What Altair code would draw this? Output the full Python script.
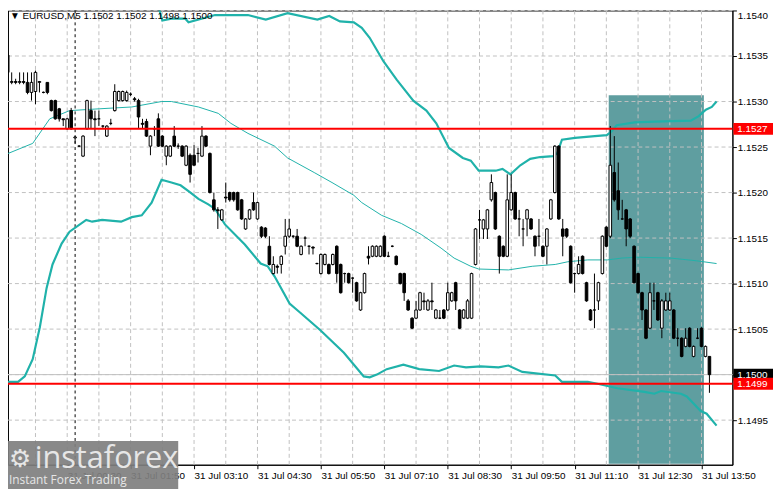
import json
import altair as alt
import pandas as pd

# ---------------- data ----------------
opens = [
    1.15332, 1.15351, 1.15321, 1.15322, 1.15321, 1.15322, 1.15321, 1.15310, 1.15311, 1.15321,
    1.15310, 1.15321, 1.15301, 1.15301, 1.15292, 1.15281, 1.15270, 1.15290, 1.15260, 1.15251,
    1.15240, 1.15270, 1.15290, 1.15281, 1.15281, 1.15273, 1.15262, 1.15276, 1.15290, 1.15301,
    1.15301, 1.15301, 1.15308, 1.15303, 1.15301, 1.15276, 1.15278, 1.15251, 1.15270, 1.15281,
    1.15262, 1.15240, 1.15240, 1.15262, 1.15251, 1.15251, 1.15230, 1.15241, 1.15241, 1.15243,
    1.15240, 1.15262, 1.15243, 1.15192, 1.15181, 1.15170, 1.15195, 1.15200, 1.15200, 1.15200,
    1.15192, 1.15160, 1.15171, 1.15189, 1.15171, 1.15162, 1.15161, 1.15141, 1.15111, 1.15119,
    1.15121, 1.15141, 1.15152, 1.15152, 1.15152, 1.15132, 1.15150, 1.15141, 1.15140, 1.15122,
    1.15111, 1.15121, 1.15121, 1.15121, 1.15141, 1.15121, 1.15111, 1.15111, 1.15106, 1.15101,
    1.15071, 1.15090, 1.15130, 1.15130, 1.15130, 1.15130, 1.15152, 1.15130, 1.15141, 1.15130,
    1.15111, 1.15111, 1.15081, 1.15062, 1.15062, 1.15071, 1.15081, 1.15071, 1.15081, 1.15062,
    1.15062, 1.15071, 1.15071, 1.15081, 1.15101, 1.15071, 1.15062, 1.15062, 1.15062, 1.15121,
    1.15170, 1.15160, 1.15160, 1.15192, 1.15200, 1.15152, 1.15141, 1.15130, 1.15181, 1.15200,
    1.15171, 1.15160, 1.15171, 1.15171, 1.15152, 1.15152, 1.15141, 1.15141, 1.15171, 1.15200,
    1.15251, 1.15160, 1.15160, 1.15141, 1.15111, 1.15111, 1.15130, 1.15101, 1.15071, 1.15071,
    1.15081, 1.15111, 1.15162, 1.15152, 1.15222, 1.15202, 1.15171, 1.15181, 1.15171, 1.15141,
    1.15111, 1.15090, 1.15071, 1.15051, 1.15081, 1.15090, 1.15051, 1.15071, 1.15071, 1.15071,
    1.15040, 1.15040, 1.15031, 1.15051, 1.15020, 1.15040, 1.15051, 1.15020, 1.15020,
]
highs = [
    1.15346, 1.15354, 1.15332, 1.15325, 1.15332, 1.15332, 1.15332, 1.15332, 1.15334, 1.15322,
    1.15311, 1.15321, 1.15302, 1.15302, 1.15293, 1.15281, 1.15282, 1.15293, 1.15262, 1.15252,
    1.15263, 1.15302, 1.15301, 1.15290, 1.15290, 1.15274, 1.15274, 1.15281, 1.15319, 1.15312,
    1.15312, 1.15312, 1.15310, 1.15305, 1.15303, 1.15281, 1.15281, 1.15263, 1.15273, 1.15287,
    1.15263, 1.15252, 1.15252, 1.15273, 1.15254, 1.15252, 1.15252, 1.15243, 1.15252, 1.15249,
    1.15273, 1.15263, 1.15244, 1.15200, 1.15184, 1.15182, 1.15211, 1.15201, 1.15201, 1.15201,
    1.15193, 1.15172, 1.15182, 1.15200, 1.15190, 1.15163, 1.15162, 1.15152, 1.15130, 1.15121,
    1.15131, 1.15171, 1.15171, 1.15153, 1.15160, 1.15142, 1.15152, 1.15142, 1.15141, 1.15123,
    1.15133, 1.15133, 1.15122, 1.15133, 1.15142, 1.15122, 1.15112, 1.15112, 1.15107, 1.15102,
    1.15091, 1.15112, 1.15141, 1.15142, 1.15142, 1.15142, 1.15153, 1.15135, 1.15142, 1.15131,
    1.15112, 1.15112, 1.15083, 1.15063, 1.15081, 1.15091, 1.15090, 1.15083, 1.15101, 1.15072,
    1.15071, 1.15072, 1.15101, 1.15091, 1.15102, 1.15072, 1.15072, 1.15083, 1.15112, 1.15161,
    1.15181, 1.15171, 1.15182, 1.15220, 1.15201, 1.15153, 1.15142, 1.15220, 1.15220, 1.15201,
    1.15181, 1.15171, 1.15182, 1.15172, 1.15153, 1.15171, 1.15142, 1.15161, 1.15193, 1.15252,
    1.15252, 1.15171, 1.15161, 1.15142, 1.15112, 1.15130, 1.15131, 1.15102, 1.15072, 1.15111,
    1.15102, 1.15153, 1.15163, 1.15273, 1.15262, 1.15233, 1.15192, 1.15182, 1.15172, 1.15142,
    1.15112, 1.15091, 1.15072, 1.15101, 1.15101, 1.15091, 1.15083, 1.15090, 1.15090, 1.15072,
    1.15051, 1.15041, 1.15051, 1.15052, 1.15032, 1.15051, 1.15052, 1.15032, 1.15020,
]
lows = [
    1.15330, 1.15322, 1.15319, 1.15319, 1.15319, 1.15319, 1.15308, 1.15301, 1.15297, 1.15310,
    1.15309, 1.15308, 1.15289, 1.15280, 1.15278, 1.15273, 1.15269, 1.15269, 1.15254, 1.15250,
    1.15239, 1.15269, 1.15270, 1.15262, 1.15273, 1.15271, 1.15261, 1.15274, 1.15289, 1.15300,
    1.15300, 1.15300, 1.15306, 1.15300, 1.15270, 1.15270, 1.15261, 1.15241, 1.15262, 1.15250,
    1.15250, 1.15230, 1.15239, 1.15250, 1.15248, 1.15239, 1.15229, 1.15211, 1.15230, 1.15233,
    1.15239, 1.15250, 1.15199, 1.15179, 1.15160, 1.15169, 1.15189, 1.15190, 1.15190, 1.15180,
    1.15170, 1.15159, 1.15170, 1.15180, 1.15170, 1.15150, 1.15150, 1.15120, 1.15110, 1.15111,
    1.15111, 1.15132, 1.15150, 1.15150, 1.15140, 1.15131, 1.15141, 1.15132, 1.15132, 1.15121,
    1.15110, 1.15120, 1.15110, 1.15120, 1.15101, 1.15089, 1.15101, 1.15100, 1.15090, 1.15080,
    1.15070, 1.15089, 1.15121, 1.15129, 1.15129, 1.15129, 1.15129, 1.15129, 1.15140, 1.15120,
    1.15099, 1.15081, 1.15070, 1.15050, 1.15061, 1.15070, 1.15071, 1.15070, 1.15071, 1.15061,
    1.15061, 1.15061, 1.15070, 1.15080, 1.15071, 1.15050, 1.15061, 1.15061, 1.15061, 1.15120,
    1.15149, 1.15149, 1.15149, 1.15190, 1.15159, 1.15111, 1.15129, 1.15129, 1.15180, 1.15170,
    1.15152, 1.15141, 1.15152, 1.15159, 1.15130, 1.15141, 1.15129, 1.15121, 1.15170, 1.15199,
    1.15170, 1.15130, 1.15150, 1.15100, 1.15090, 1.15110, 1.15110, 1.15080, 1.15059, 1.15051,
    1.15071, 1.15110, 1.15140, 1.15150, 1.15190, 1.15170, 1.15170, 1.15141, 1.15150, 1.15100,
    1.15089, 1.15060, 1.15039, 1.15050, 1.15071, 1.15059, 1.15040, 1.15070, 1.15070, 1.15039,
    1.15031, 1.15019, 1.15030, 1.15030, 1.15019, 1.15039, 1.15030, 1.15019, 1.14980,
]
closes = [
    1.15343, 1.15332, 1.15322, 1.15321, 1.15322, 1.15321, 1.15310, 1.15321, 1.15332, 1.15322,
    1.15310, 1.15310, 1.15290, 1.15281, 1.15281, 1.15280, 1.15281, 1.15270, 1.15261, 1.15251,
    1.15262, 1.15301, 1.15281, 1.15280, 1.15281, 1.15273, 1.15273, 1.15276, 1.15311, 1.15311,
    1.15311, 1.15310, 1.15308, 1.15302, 1.15283, 1.15275, 1.15262, 1.15262, 1.15270, 1.15251,
    1.15251, 1.15251, 1.15251, 1.15251, 1.15251, 1.15240, 1.15251, 1.15220, 1.15230, 1.15243,
    1.15262, 1.15251, 1.15200, 1.15181, 1.15180, 1.15181, 1.15194, 1.15192, 1.15192, 1.15181,
    1.15171, 1.15171, 1.15181, 1.15181, 1.15189, 1.15152, 1.15152, 1.15121, 1.15121, 1.15118,
    1.15130, 1.15152, 1.15160, 1.15152, 1.15141, 1.15141, 1.15150, 1.15141, 1.15139, 1.15122,
    1.15132, 1.15132, 1.15111, 1.15132, 1.15111, 1.15090, 1.15111, 1.15101, 1.15106, 1.15081,
    1.15090, 1.15111, 1.15128, 1.15141, 1.15141, 1.15141, 1.15130, 1.15130, 1.15141, 1.15121,
    1.15100, 1.15090, 1.15071, 1.15051, 1.15071, 1.15090, 1.15080, 1.15081, 1.15080, 1.15071,
    1.15062, 1.15062, 1.15090, 1.15090, 1.15081, 1.15051, 1.15071, 1.15081, 1.15111, 1.15160,
    1.15170, 1.15170, 1.15181, 1.15211, 1.15160, 1.15130, 1.15130, 1.15192, 1.15200, 1.15171,
    1.15171, 1.15160, 1.15181, 1.15160, 1.15141, 1.15152, 1.15130, 1.15160, 1.15192, 1.15251,
    1.15171, 1.15152, 1.15152, 1.15101, 1.15111, 1.15121, 1.15111, 1.15081, 1.15060, 1.15071,
    1.15101, 1.15152, 1.15141, 1.15230, 1.15192, 1.15181, 1.15171, 1.15160, 1.15152, 1.15101,
    1.15090, 1.15071, 1.15040, 1.15090, 1.15081, 1.15060, 1.15081, 1.15081, 1.15081, 1.15040,
    1.15040, 1.15020, 1.15040, 1.15031, 1.15031, 1.15040, 1.15031, 1.15031, 1.15000,
]

# Bollinger bands (bar position, price)
upper_bar = [30, 38, 39, 40, 42.3, 45.8, 46.6, 50.8, 53.3, 61.6,
             66.1, 71.6, 79.1, 82.1, 84.8, 88.3, 90.3, 92.3, 95.8, 99.1,
             103.3, 106.6, 109.1, 112.3, 115.8, 117.8, 119.8, 124.1, 125.8, 127.8,
             130.3, 132.8, 135.3, 138.6, 139.6, 140.8, 144.1, 149.1, 152.1, 153.3,
             154.6, 159.1, 164.1, 173.3, 175.3, 177.1, 178.6, 179.8]
upper_val = [1.1560, 1.1545, 1.15405, 1.15389, 1.15391, 1.15391, 1.15387, 1.15392, 1.15395, 1.15395,
             1.15390, 1.15397, 1.15390, 1.15394, 1.15388, 1.15387, 1.15381, 1.15370, 1.15344, 1.15324,
             1.15301, 1.15290, 1.15276, 1.15249, 1.15238, 1.15235, 1.15224, 1.15224, 1.15226, 1.15220,
             1.15230, 1.15237, 1.15239, 1.15240, 1.15243, 1.15258, 1.15260, 1.15262, 1.15263, 1.15267,
             1.15274, 1.15277, 1.15278, 1.15279, 1.15284, 1.15291, 1.15294, 1.15300]
mid_bar = [0, 7.3, 11.6, 16.6, 24.1, 32.3, 39.8, 42.3, 49.1, 54.1,
           57.3, 61.6, 68.3, 71.6, 78.3, 82.8, 88.3, 90.3, 95.3, 100.3,
           105.3, 110.3, 113.6, 117.8, 119.8, 127.3, 133.3, 139.1, 142.3, 147.3,
           152.3, 155.8, 159.8, 168.3, 174.8, 179.8]
mid_val = [1.15241, 1.15254, 1.15281, 1.15290, 1.15292, 1.15294, 1.15300, 1.15300, 1.15294, 1.15287,
           1.15276, 1.15265, 1.15251, 1.15238, 1.15222, 1.15211, 1.15197, 1.15189, 1.15175, 1.15166,
           1.15154, 1.15139, 1.15128, 1.15119, 1.15116, 1.15115, 1.15119, 1.15121, 1.15124, 1.15126,
           1.15126, 1.15128, 1.15129, 1.15128, 1.15125, 1.15122]
lower_bar = [0, 3.6, 5.3, 7.3, 9.1, 10.8, 12.3, 14.6, 16.6, 20.8,
             22.3, 24.8, 29.6, 32.3, 34.8, 37.3, 39.8, 42.3, 44.6, 47.1,
             49.1, 51.6, 53.3, 55.8, 60.8, 64.8, 66.6, 68.3, 72.1, 74.8,
             79.8, 85.8, 90.8, 92.3, 94.1, 96.6, 100.8, 104.8, 109.8, 113.6,
             116.6, 120.3, 124.8, 127.3, 130.8, 139.1, 140.8, 147.3, 149.8, 154.8,
             161.6, 164.1, 165.8, 170.8, 172.3, 175.8, 177.3, 179.8]
lower_val = [1.14992, 1.14992, 1.14998, 1.15017, 1.15052, 1.15095, 1.15121, 1.15144, 1.15157, 1.15170,
             1.15168, 1.15170, 1.15168, 1.15173, 1.15175, 1.15189, 1.15214, 1.15211, 1.15208, 1.15200,
             1.15193, 1.15187, 1.15182, 1.15165, 1.15143, 1.15122, 1.15119, 1.15108, 1.15078, 1.15068,
             1.15049, 1.15024, 1.14998, 1.14997, 1.15000, 1.15006, 1.15011, 1.15006, 1.15004, 1.15010,
             1.15008, 1.15009, 1.15008, 1.15010, 1.15003, 1.14999, 1.14992, 1.14992, 1.14990, 1.14985,
             1.14981, 1.14979, 1.14982, 1.14979, 1.14976, 1.14960, 1.14957, 1.14944]

# axis ticks / labels
price_ticks = [1.1495, 1.1500, 1.1505, 1.1510, 1.1515, 1.1520, 1.1525, 1.1530, 1.1535, 1.1540]
grid_bars = [8, 16, 24, 32, 40, 48, 56, 64, 72, 80, 88, 96, 104, 112, 120, 128, 136, 144,
             152, 160, 168, 176]
label_bars = [0, 16, 32, 48, 64, 80, 96, 112, 128, 144, 160, 176]
time_labels = ["30 Jul 2025", "31 Jul 00:30", "31 Jul 01:50", "31 Jul 03:10", "31 Jul 04:30",
               "31 Jul 05:50", "31 Jul 07:10", "31 Jul 08:30", "31 Jul 09:50", "31 Jul 11:10",
               "31 Jul 12:30", "31 Jul 13:50"]

# horizontal levels and price tags
level_prices = [1.1527, 1.1499]
bid_price = [1.1500]
tag_prices = [1.1500, 1.1527, 1.1499]
tag_colors = ["#000000", "#FF0000", "#FF0000"]
separator_bar = [18]
zone_bars = [152.6, 176.6]
zone_prices = [1.14902, 1.15307]

symbol = "EURUSD,M5"

# ---------------- chart ----------------
W, H = 732, 459
xs = alt.Scale(domain=[1.07, 183.8], nice=False, zero=False, padding=0)
ys = alt.Scale(domain=[1.14901, 1.15400], nice=False, zero=False, padding=0)
FONT = "Liberation Sans"
TEAL = "#20B2AA"

candles = pd.DataFrame({"bar": list(range(len(opens))), "open": opens, "high": highs,
                        "low": lows, "close": closes})
candles["dir"] = ["up" if c >= o else "down" for o, c in zip(opens, closes)]

lb = json.dumps(label_bars)
tl = json.dumps(time_labels)
label_expr = f"indexof({lb}, datum.value) >= 0 ? {tl}[indexof({lb}, datum.value)] : ''"

x_axis = alt.Axis(values=grid_bars, labelExpr=label_expr, labelAlign="left", labelBaseline="top",
                  labelPadding=2, tickSize=4, grid=False, title=None, labelFlush=False,
                  labelOverlap=False, domain=True, domainColor="black",
                  tickOpacity={"condition": {"test": f"indexof({lb}, datum.value) >= 0", "value": 1},
                               "value": 0})
y_axis = alt.Axis(orient="right", values=price_ticks, format=".4f", tickSize=4, labelPadding=1,
                  grid=False, title=None, labelFlush=True, labelOverlap=False, domainColor="black")


def X(field):
    return alt.X(field, type="quantitative", scale=xs, axis=x_axis)


def Y(field):
    return alt.Y(field, type="quantitative", scale=ys, axis=y_axis)


zone_df = pd.DataFrame({"b0": [zone_bars[0]], "b1": [zone_bars[1]],
                        "p0": [zone_prices[0]], "p1": [zone_prices[1]]})
zone = alt.Chart(zone_df).mark_rect(color="#5F9EA0", clip=True).encode(
    x=X("b0"), x2="b1", y=Y("p0"), y2="p1")

hgrid = alt.Chart(pd.DataFrame({"p": price_ticks})).mark_rule(
    color="#C0C0C0", strokeDash=[4, 3], strokeWidth=1).encode(y=Y("p"))
vgrid = alt.Chart(pd.DataFrame({"b": grid_bars})).mark_rule(
    color="#C0C0C0", strokeDash=[4, 3], strokeWidth=1).encode(x=X("b"))

bid = alt.Chart(pd.DataFrame({"p": bid_price})).mark_rule(color="#C0C0C0", strokeWidth=1).encode(y=Y("p"))
sep = alt.Chart(pd.DataFrame({"b": separator_bar})).mark_rule(
    color="black", strokeDash=[3, 3], strokeWidth=1).encode(x=X("b"))


def band(bars, vals, width):
    df = pd.DataFrame({"b": bars, "p": vals})
    return alt.Chart(df).mark_line(color=TEAL, strokeWidth=width, clip=True).encode(
        x=X("b"), y=Y("p"), order="b:Q")


upper = band(upper_bar, upper_val, 2.2)
middle = band(mid_bar, mid_val, 1)
lower = band(lower_bar, lower_val, 2.2)

wicks = alt.Chart(candles).mark_rule(color="black", strokeWidth=1, clip=True).encode(
    x=X("bar"), y=Y("low"), y2="high")
bodies = alt.Chart(candles).mark_bar(size=2.6, stroke="black", strokeWidth=1, orient="vertical",
                                     clip=True).encode(
    x=X("bar"), y=Y("open"), y2="close",
    fill=alt.Fill("dir:N", scale=alt.Scale(domain=["up", "down"], range=["white", "black"]),
                  legend=None))

levels = alt.Chart(pd.DataFrame({"p": level_prices})).mark_rule(color="#FF0000", strokeWidth=2).encode(
    y=Y("p"))

tags_df = pd.DataFrame({"p": tag_prices, "bg": tag_colors,
                        "label": [f"{p:.4f}" for p in tag_prices]})
tag_boxes = alt.Chart(tags_df).mark_bar(orient="horizontal", size=12).encode(
    y=Y("p"), x=alt.value(W + 1), x2=alt.value(W + 41),
    color=alt.Color("bg:N", scale=None, legend=None))
tag_text = alt.Chart(tags_df).mark_text(align="left", baseline="middle", font=FONT, fontSize=10,
                                        color="white").encode(
    y=Y("p"), x=alt.value(W + 5), text="label:N")

o, h, l, c = opens[-1], highs[-1], lows[-1], closes[-1]
head_df = pd.DataFrame({"t": [f"\u25BC {symbol}  {o:.4f} {h:.4f} {l:.4f} {c:.4f}"]})
header = alt.Chart(head_df).mark_text(align="left", baseline="top", font=FONT, fontSize=10,
                                      color="black").encode(x=alt.value(2), y=alt.value(1), text="t:N")

logo_df = pd.DataFrame({"name": ["instaforex"], "tag": ["Instant Forex Trading"], "icon": ["\u2699"]})
logo_box = alt.Chart(logo_df).mark_rect(color="#7F7F7F", opacity=0.92).encode(
    x=alt.value(-8), x2=alt.value(172), y=alt.value(435), y2=alt.value(489))
logo_icon = alt.Chart(logo_df).mark_text(align="left", baseline="alphabetic", font="DejaVu Sans",
                                         fontSize=25, color="#E6E6E6").encode(
    x=alt.value(1), y=alt.value(461), text="icon:N")
logo_name = alt.Chart(logo_df).mark_text(align="left", baseline="alphabetic", font="Open Sans",
                                         fontSize=31, color="#E6E6E6").encode(
    x=alt.value(27), y=alt.value(462), text="name:N")
logo_tag = alt.Chart(logo_df).mark_text(align="left", baseline="alphabetic", font="Open Sans",
                                        fontSize=12, color="#E6E6E6").encode(
    x=alt.value(1), y=alt.value(478), text="tag:N")

chart = alt.layer(
    zone, hgrid, vgrid, bid, sep, upper, middle, lower, wicks, bodies, levels,
    tag_boxes, tag_text, header, logo_box, logo_icon, logo_name, logo_tag
).properties(
    width=W, height=H,
    padding={"left": 0, "top": 0, "right": 41, "bottom": 22},
    autosize=alt.AutoSizeParams(type="none"),
    background="white",
).configure_view(
    stroke="black", strokeWidth=1
).configure_axis(
    labelFont=FONT, labelFontSize=10, labelColor="black", tickColor="black", domainColor="black"
)

chart.save("out.html", embed_options={"renderer": "svg", "actions": False})
